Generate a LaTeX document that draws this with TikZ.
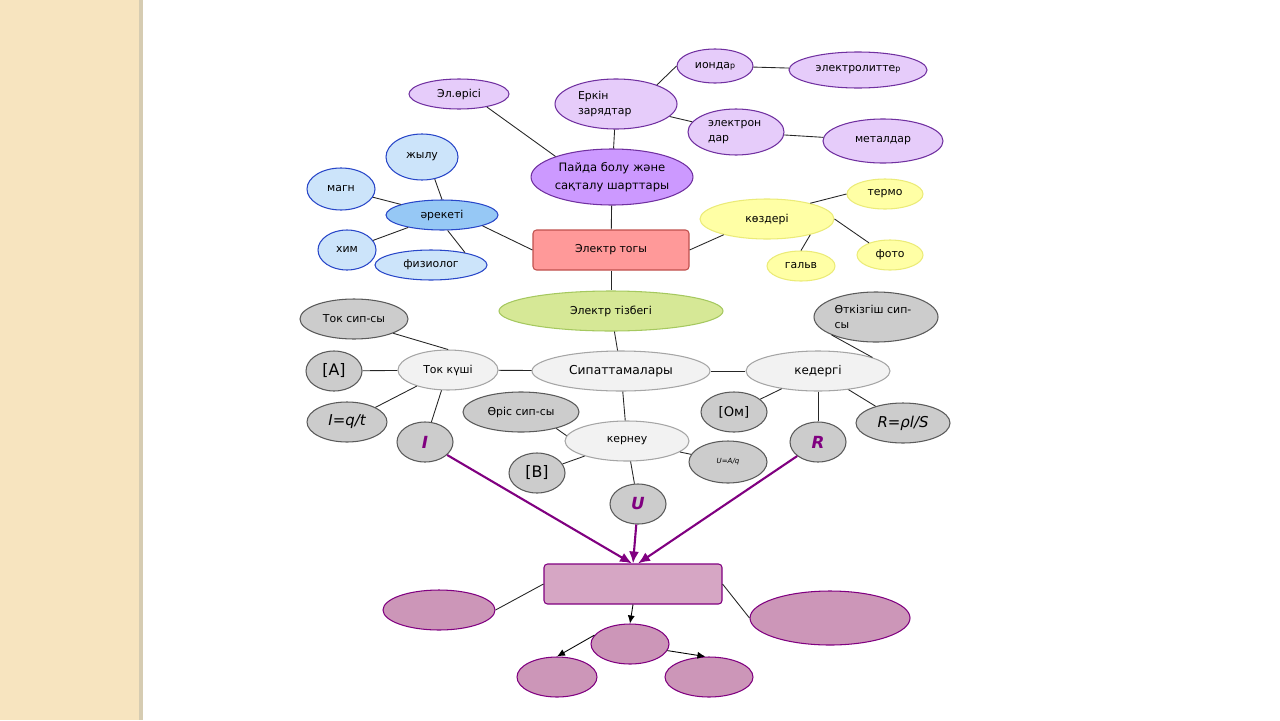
\documentclass[tikz,border=0pt]{standalone}
\usepackage{fontspec}
\setmainfont{DejaVu Sans}
\definecolor{beige}{RGB}{247,228,191}
\definecolor{beigeshade}{RGB}{214,204,178}
\definecolor{plumline}{RGB}{112,48,160}
\definecolor{lilacfill}{RGB}{230,204,250}
\definecolor{violetfill}{RGB}{204,153,255}
\definecolor{blueline}{RGB}{40,70,200}
\definecolor{bluefill}{RGB}{204,228,250}
\definecolor{bluemid}{RGB}{150,200,245}
\definecolor{pinkfill}{RGB}{255,153,153}
\definecolor{pinkline}{RGB}{192,80,77}
\definecolor{yellowfill}{RGB}{255,255,165}
\definecolor{yellowline}{RGB}{235,235,120}
\definecolor{greenfill}{RGB}{214,232,150}
\definecolor{greenline}{RGB}{165,200,95}
\definecolor{palegray}{RGB}{242,242,242}
\definecolor{palegrayline}{RGB}{165,165,165}
\definecolor{midgray}{RGB}{204,204,204}
\definecolor{midgrayline}{RGB}{90,90,90}
\definecolor{mauvefill}{RGB}{204,150,184}
\definecolor{mauvebox}{RGB}{214,166,196}
\definecolor{darkviolet}{RGB}{128,0,128}
\usetikzlibrary{arrows.meta, shapes.geometric}
\tikzset{
	sz/.style 2 args={minimum width=#1*0.02cm, minimum height=#2*0.02cm},
	bub/.style={ellipse, inner sep=0pt, line width=0.6pt, align=center, font=\fontsize{6.2}{9}\selectfont},
	lilac/.style={bub, draw=plumline, fill=lilacfill},
	violetbub/.style={bub, draw=plumline, fill=violetfill, font=\fontsize{6.6}{10}\selectfont},
	bluebub/.style={bub, draw=blueline, fill=bluefill},
	bluemain/.style={bub, draw=blueline, fill=bluemid},
	yellowbub/.style={bub, draw=yellowline, fill=yellowfill},
	greenbub/.style={bub, draw=greenline, fill=greenfill},
	palebub/.style={bub, draw=palegrayline, fill=palegray},
	graybub/.style={bub, draw=midgrayline, fill=midgray},
	letter/.style={graybub, font=\fontsize{9.5}{11}\selectfont\bfseries\itshape, text=darkviolet},
	mauvebub/.style={bub, draw=darkviolet, fill=mauvefill},
	centerbox/.style={rectangle, rounded corners=2pt, inner sep=0pt, line width=0.6pt, font=\fontsize{6.2}{9}\selectfont},
	link/.style={draw=black!85, line width=0.5pt},
	arrow/.style={-{Latex[length=1.6mm, width=1.4mm]}, draw=black, line width=0.5pt},
	bigarrow/.style={-{Latex[length=2.4mm, width=2mm]}, draw=darkviolet, line width=1.2pt},
}

\begin{document}
\begin{tikzpicture}[x=0.02cm, y=-0.02cm]
	\useasboundingbox (0,0) rectangle (1280,720);
	\fill[beige] (0,0) rectangle (140,720);
	\fill[beigeshade] (139,0) rectangle (143,720);

	% top: conditions
	\node[lilac, sz={100}{30}] (errisi) at (459,94) {Эл.өрісі};
	\node[lilac, sz={122}{50}, text width=1.52cm, align=left] (erkin) at (616,104) {Еркін\\зарядтар};
	\node[lilac, sz={76}{34}] (iondar) at (715,66) {ионда{\fontsize{4.5}{5}\selectfont р}};
	\node[lilac, sz={138}{36}] (electrolit) at (858,70) {электролитте{\fontsize{4.5}{5}\selectfont р}};
	\node[lilac, sz={96}{46}, text width=1.12cm, align=left] (electrondar) at (736,132) {электрон\\дар};
	\node[lilac, sz={120}{44}] (metaldar) at (883,141) {металдар};
	\node[violetbub, sz={160}{56}] (paida) at (612,177) {Пайда болу және\\сақталу шарттары};

	% left: effects
	\node[bluebub, sz={72}{46}] (zhylu) at (422,157) {жылу};
	\node[bluebub, sz={68}{42}] (magn) at (341,189) {магн};
	\node[bluemain, sz={112}{30}] (areketi) at (442,215) {әрекеті};
	\node[bluebub, sz={58}{40}] (khim) at (347,250) {хим};
	\node[bluebub, sz={112}{30}] (physiol) at (431,265) {физиолог};

	\node[centerbox, draw=pinkline, fill=pinkfill, sz={156}{40}] (tok) at (611,250) {Электр тогы};

	% right: sources
	\node[yellowbub, sz={134}{40}] (kozderi) at (767,219) {көздері};
	\node[yellowbub, sz={76}{30}] (termo) at (885,194) {термо};
	\node[yellowbub, sz={66}{30}] (foto) at (890,255) {фото};
	\node[yellowbub, sz={68}{30}] (galv) at (801,266) {гальв};

	\node[greenbub, sz={224}{40}] (tizbek) at (611,311) {Электр тізбегі};
	\node[palebub, sz={178}{40}, font=\fontsize{7}{9}\selectfont] (sipat) at (621,371) {Сипаттамалары};

	% current
	\node[palebub, sz={100}{40}] (tokkushi) at (448,370) {Ток күші};
	\node[graybub, sz={108}{40}] (toksip) at (354,319) {Ток сип-сы};
	\node[graybub, sz={56}{40}, font=\fontsize{9}{11}\selectfont] (ampere) at (334,371) {[A]};
	\node[graybub, sz={80}{40}, font=\fontsize{8.5}{10}\selectfont\itshape] (iformula) at (347,422) {I=q/t};
	\node[letter, sz={56}{40}] (ivar) at (425,442) {I};

	% voltage
	\node[graybub, sz={116}{40}] (oris) at (521,412) {Өріс сип-сы};
	\node[palebub, sz={124}{40}] (kerneu) at (627,441) {кернеу};
	\node[graybub, sz={56}{40}, font=\fontsize{9}{11}\selectfont] (volt) at (537,473) {[B]};
	\node[graybub, sz={78}{42}, font=\fontsize{4}{5}\selectfont\itshape] (uformula) at (728,462) {U=A/q};
	\node[letter, sz={56}{40}] (uvar) at (638,504) {U};

	% resistance
	\node[palebub, sz={144}{40}, font=\fontsize{6.8}{9}\selectfont] (kedergi) at (818,371) {кедергі};
	\node[graybub, sz={124}{50}, text width=1.66cm, align=left] (otkizgish) at (876,317) {Өткізгіш сип-\\сы};
	\node[graybub, sz={66}{40}, font=\fontsize{7.5}{9}\selectfont] (ohm) at (734,412) {[Ом]};
	\node[graybub, sz={94}{40}, font=\fontsize{8.5}{10}\selectfont\itshape] (rformula) at (903,423) {R=ρl/S};
	\node[letter, sz={56}{40}] (rvar) at (818,442) {R};

	% bottom
	\node[centerbox, draw=darkviolet, fill=mauvebox, sz={178}{40}] (result) at (633,584) {};
	\node[mauvebub, sz={112}{40}] (resleft) at (439,610) {};
	\node[mauvebub, sz={160}{54}] (resright) at (830,618) {};
	\node[mauvebub, sz={78}{40}] (resmid) at (630,644) {};
	\node[mauvebub, sz={80}{40}] (resbl) at (557,677) {};
	\node[mauvebub, sz={88}{40}] (resbr) at (709,677) {};

	\draw[link] (errisi.-25) -- (paida.160);
	\draw[link] (erkin) -- (paida);
	\draw[link] (erkin.25) -- (iondar.west);
	\draw[link] (iondar) -- (electrolit);
	\draw[link] (erkin) -- (electrondar);
	\draw[link] (electrondar) -- (metaldar);
	\draw[link] (paida) -- (tok);
	\draw[link] (zhylu.-60) -- (areketi.north);
	\draw[link] (magn) -- (areketi);
	\draw[link] (khim) -- (areketi);
	\draw[link] (areketi.-70) -- (physiol.20);
	\draw[link] (areketi.-15) -- (tok.west);
	\draw[link] (tok.east) -- (kozderi.200);
	\draw[link] (kozderi.20) -- (termo.west);
	\draw[link] (kozderi.east) -- (foto.150);
	\draw[link] (kozderi.-20) -- (galv.north);
	\draw[link] (tok) -- (tizbek);
	\draw[link] (tizbek) -- (sipat);
	\draw[link] (tokkushi) -- (sipat);
	\draw[link] (sipat) -- (kedergi);
	\draw[link] (toksip.-20) -- (tokkushi.north);
	\draw[link] (ampere) -- (tokkushi);
	\draw[link] (iformula) -- (tokkushi);
	\draw[link] (ivar) -- (tokkushi);
	\draw[link] (sipat) -- (kerneu);
	\draw[link] (oris.-25) -- (kerneu.175);
	\draw[link] (volt) -- (kerneu);
	\draw[link] (kerneu) -- (uformula);
	\draw[link] (kerneu) -- (uvar);
	\draw[link] (kedergi) -- (ohm);
	\draw[link] (kedergi) -- (rvar);
	\draw[link] (kedergi) -- (rformula);
	\draw[link] (otkizgish.-158) -- (kedergi.14);

	\draw[bigarrow] (ivar) -- ([xshift=-0.02cm]result.north);
	\draw[bigarrow] (uvar) -- (result.north);
	\draw[bigarrow] (rvar) -- ([xshift=0.1cm]result.north);

	\draw[link] (result.west) -- (resleft.east);
	\draw[link] (result.east) -- (resright.west);
	\draw[arrow] (result.south) -- (resmid.north);
	\draw[arrow] (resmid.166) -- (resbl.north);
	\draw[arrow] (resmid.-10) -- (resbr.100);
\end{tikzpicture}
\end{document}
